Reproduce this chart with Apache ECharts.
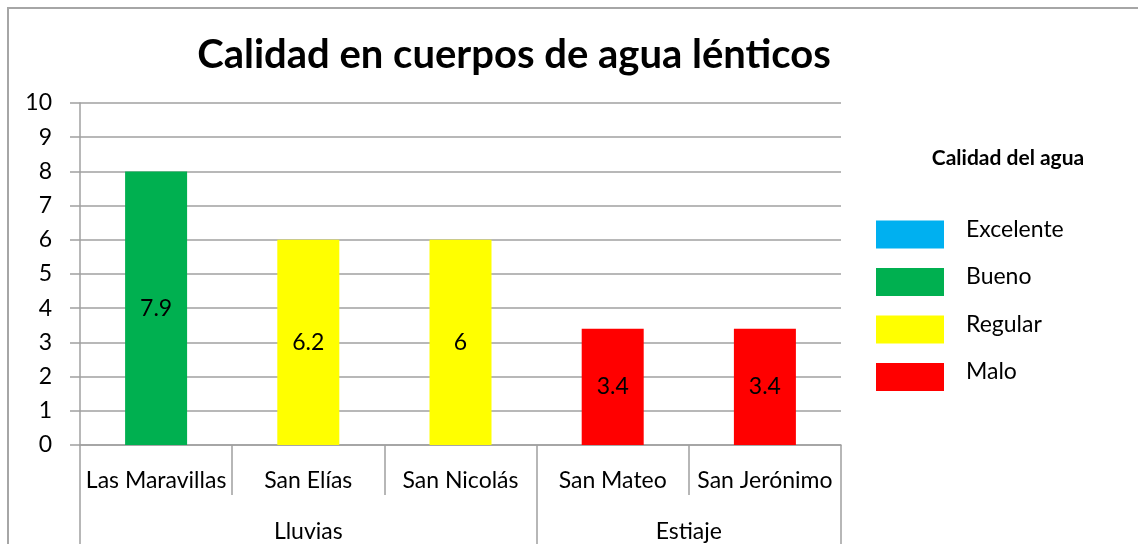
<!DOCTYPE html>
<html>
<head>
<meta charset="utf-8">
<script src="https://cdn.jsdelivr.net/npm/echarts@6/dist/echarts.min.js"></script>
<style>
  body { margin: 0; background: #fff; overflow: hidden; }
  #frame { position: absolute; left: 7px; top: 7px; width: 1200px; height: 600px; border-left: 2px solid #a6a6a6; border-top: 2px solid #a6a6a6; }
  #chart { position: absolute; left: 0; top: 0; width: 1138px; height: 544px; }
</style>
</head>
<body>
<div id="frame"></div>
<div id="chart"></div>
<script>
// datos
const sitios = ['Las Maravillas', 'San Elías', 'San Nicolás', 'San Mateo', 'San Jerónimo'];
const temporadas = ['Lluvias', 'Estiaje'];
const temporadaPos = [1.5, 4];
const temporadaLimites = [0, 3, 5];
const sitioLimites = [1, 2, 4];
const alturas = [8, 6, 6, 3.4, 3.4];
const etiquetas = ['7.9', '6.2', '6', '3.4', '3.4'];
const calidad = ['Bueno', 'Regular', 'Regular', 'Malo', 'Malo'];
const categoriasCalidad = ['Excelente', 'Bueno', 'Regular', 'Malo'];
const colores = ['#00B0F0', '#00B050', '#FFFF00', '#FF0000'];
const yTicks = [0, 1, 2, 3, 4, 5, 6, 7, 8, 9, 10];

const FONT = 'Lato, "Open Sans", sans-serif';
const gris = '#a0a0a0';

const chart = echarts.init(document.getElementById('chart'));

const series = categoriasCalidad.map((c, k) => ({
  name: c,
  type: 'bar',
  stack: 'q',
  barWidth: 62,
  itemStyle: { color: colores[k] },
  label: {
    show: true,
    position: 'inside',
    color: '#000',
    fontFamily: FONT,
    fontSize: 23,
    formatter: p => etiquetas[p.dataIndex]
  },
  data: alturas.map((v, i) => (calidad[i] === c ? v : '-'))
}));

chart.setOption({
  animation: false,
  title: [
    {
      text: 'Calidad en cuerpos de agua lénticos',
      left: 509, top: 30, textAlign: 'center',
      textStyle: { fontFamily: FONT, fontSize: 40, fontWeight: 'bold', color: '#000' }
    },
    {
      text: 'Calidad del agua',
      left: 1003, top: 143, textAlign: 'center',
      textStyle: { fontFamily: FONT, fontSize: 21, fontWeight: 'bold', color: '#000' }
    }
  ],
  legend: {
    orient: 'vertical',
    left: 871, top: 213,
    icon: 'rect',
    itemWidth: 68, itemHeight: 28,
    itemGap: 17,
    data: categoriasCalidad,
    formatter: n => '{t|' + n + '}',
    textStyle: {
      fontFamily: FONT, fontSize: 23, color: '#000', padding: [0, 0, 0, 17],
      rich: { t: { fontFamily: FONT, fontSize: 23, color: '#000', padding: [0, 0, 10, 0] } }
    }
  },
  grid: { left: 80, right: 297, top: 103, bottom: 99 },
  xAxis: [
    {
      type: 'category',
      data: sitios,
      axisLine: { lineStyle: { color: gris, width: 1.5 } },
      axisTick: { show: false },
      axisLabel: { interval: 0, margin: 24, color: '#000', fontFamily: FONT, fontSize: 23 }
    },
    {
      // separadores entre sitios
      type: 'value',
      position: 'bottom',
      min: 0, max: 5,
      axisLine: { show: false },
      splitLine: { show: false },
      axisTick: { show: true, length: 50, customValues: sitioLimites, lineStyle: { color: gris, width: 1.5 } },
      axisLabel: { show: false }
    },
    {
      // temporadas
      type: 'value',
      position: 'bottom',
      min: 0, max: 5,
      axisLine: { show: false },
      splitLine: { show: false },
      axisTick: { show: true, length: 99, customValues: temporadaLimites, lineStyle: { color: gris, width: 1.5 } },
      axisLabel: {
        margin: 75,
        customValues: temporadaPos,
        color: '#000', fontFamily: FONT, fontSize: 23,
        formatter: v => temporadas[temporadaPos.indexOf(v)] || ''
      }
    }
  ],
  yAxis: {
    type: 'value',
    min: 0, max: 10, interval: 1,
    axisLine: { show: true, lineStyle: { color: gris, width: 1.5 } },
    axisTick: { show: true, length: 10, lineStyle: { color: gris, width: 1.5 } },
    splitLine: { lineStyle: { color: gris, width: 1.5 } },
    axisLabel: {
      margin: 28, color: '#000', fontFamily: FONT, fontSize: 23,
      formatter: v => (yTicks.includes(v) ? String(v) : '')
    }
  },
  series: series
});
</script>
</body>
</html>
